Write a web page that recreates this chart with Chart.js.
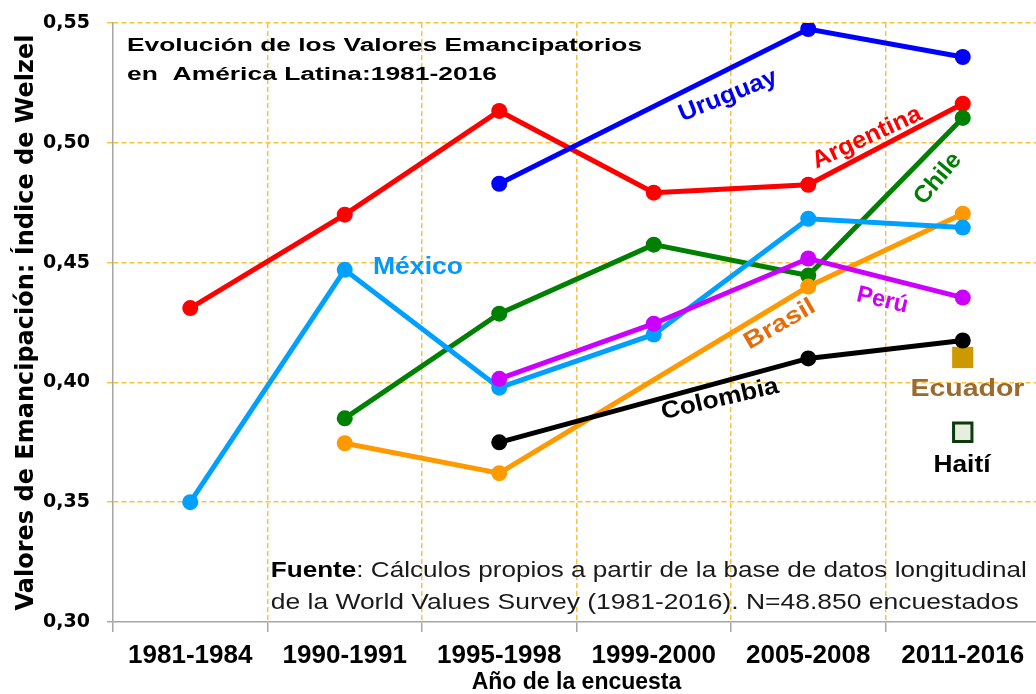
<!DOCTYPE html>
<html>
<head>
<meta charset="utf-8">
<script src="https://cdn.jsdelivr.net/npm/chart.js@4.4.1/dist/chart.umd.min.js"></script>
<style>
  html, body { margin: 0; padding: 0; background: #fff; overflow: hidden; }
  #wrap { width: 1036px; height: 694px; overflow: hidden; }
  canvas { display: block; }
</style>
</head>
<body>
<div id="wrap"><canvas id="chart" width="1040" height="694"></canvas></div>
<script>
// survey waves
const waves = [`1981-1984`, `1990-1991`, `1995-1998`, `1999-2000`, `2005-2008`, `2011-2016`];

// Welzel emancipative values index
const colombia  = [null, null, 0.375, null, 0.410, 0.4175];
const peru      = [null, null, 0.4015, 0.4245, 0.4517, 0.4354];
const mexico    = [0.350, 0.4470, 0.3978, 0.4200, 0.4683, 0.4646];
const brasil    = [null, 0.3746, 0.3621, null, 0.4400, 0.4704];
const chile     = [null, 0.3850, 0.4287, 0.4575, 0.4446, 0.5104];
const uruguay   = [null, null, 0.4829, null, 0.5475, 0.5358];
const argentina = [0.4310, 0.4700, 0.5133, 0.4792, 0.4825, 0.5163];
const ecuador   = [null, null, null, null, null, 0.4104];
const haiti     = [null, null, null, null, null, 0.3792];

const yTicks = [0.30, 0.35, 0.40, 0.45, 0.50, 0.55];

const GRID = `#fcc33a`;
const AXIS = `#a6a6a6`;
const LABEL_FONT = `bold 24px "Liberation Sans"`;

const line = (label, data, color) => ({
  label,
  data,
  borderColor: color,
  backgroundColor: color,
  borderWidth: 5,
  pointRadius: 8,
  pointBorderWidth: 0,
  spanGaps: true,
  tension: 0
});

// text placed in data units: x = wave index, y = index value
const notes = [
  {text: `Uruguay`, x: 3.48, y: 0.5196, color: `#0000ee`, rot: -22, w: 104},
  {text: `Argentina`, x: 4.38, y: 0.5021, color: `#ff0000`, rot: -25, w: 118},
  {text: `Chile`, x: 4.84, y: 0.4850, color: `#008000`, rot: -50, w: 60},
  {text: `México`, x: 1.474, y: 0.4479, color: `#0099ff`, rot: 0, w: 90},
  {text: `Brasil`, x: 3.816, y: 0.4242, color: `#e46c0a`, rot: -30, w: 78},
  {text: `Perú`, x: 4.48, y: 0.4342, color: `#cc00ff`, rot: 13, w: 52},
  {text: `Colombia`, x: 3.428, y: 0.3929, color: `#000000`, rot: -13, w: 120},
  {text: `Ecuador`, x: 5.03, y: 0.3970, color: `#9c6a2e`, rot: 0, w: 114},
  {text: `Haití`, x: 4.995, y: 0.3654, color: `#000000`, rot: 0, w: 57}
];

function drawStretched(ctx, text, x, y, font, color, rot, width, align) {
  ctx.save();
  ctx.font = font;
  ctx.fillStyle = color;
  ctx.textBaseline = `middle`;
  ctx.textAlign = align || `center`;
  ctx.translate(x, y);
  ctx.rotate(rot * Math.PI / 180);
  const m = ctx.measureText(text).width;
  ctx.scale(width / m, 1);
  ctx.fillText(text, 0, 0);
  ctx.restore();
}

const textPlugin = {
  id: `texts`,
  afterDatasetsDraw(chart) {
    const {ctx, scales: {x, y}} = chart;
    notes.forEach((n) => {
      drawStretched(ctx, n.text, x.getPixelForValue(n.x), y.getPixelForValue(n.y), LABEL_FONT, n.color, n.rot, n.w);
    });

    // title box
    const tx = x.getPixelForValue(-0.409);
    const tf = `bold 18px "Liberation Sans"`;
    drawStretched(ctx, `Evolución de los Valores Emancipatorios`, tx, y.getPixelForValue(0.5404), tf, `#000`, 0, 515, `left`);
    drawStretched(ctx, `en  América Latina:1981-2016`, tx, y.getPixelForValue(0.5281), tf, `#000`, 0, 370, `left`);

    // source note
    const sx = x.getPixelForValue(0.521);
    const s1 = y.getPixelForValue(0.3212);
    const s2 = y.getPixelForValue(0.3079);
    const bold = `bold 22px "Liberation Sans"`;
    const reg = `22px "Liberation Sans"`;
    ctx.save();
    ctx.font = bold;
    const wb = ctx.measureText(`Fuente`).width;
    ctx.font = reg;
    const rest = `: Cálculos propios a partir de la base de datos longitudinal`;
    const wr = ctx.measureText(rest).width;
    const k = 756 / (wb + wr);
    ctx.translate(sx, s1);
    ctx.scale(k, 1);
    ctx.textBaseline = `middle`;
    ctx.textAlign = `left`;
    ctx.fillStyle = `#000`;
    ctx.font = bold;
    ctx.fillText(`Fuente`, 0, 0);
    ctx.font = reg;
    ctx.fillStyle = `#1a1a1a`;
    ctx.fillText(rest, wb, 0);
    ctx.restore();
    drawStretched(ctx, `de la World Values Survey (1981-2016). N=48.850 encuestados`, sx, s2, reg, `#1a1a1a`, 0, 748, `left`);
  }
};

const isBase = (ctx) => ctx.tick && Math.abs(ctx.tick.value - 0.30) < 1e-6;

new Chart(document.getElementById(`chart`), {
  type: `line`,
  data: {
    labels: waves,
    datasets: [
      line(`Colombia`, colombia, `#000000`),
      line(`Perú`, peru, `#cc00ff`),
      line(`México`, mexico, `#00a0ff`),
      line(`Brasil`, brasil, `#ff9900`),
      line(`Chile`, chile, `#008000`),
      line(`Uruguay`, uruguay, `#0000ff`),
      line(`Argentina`, argentina, `#ff0000`),
      {
        label: `Ecuador`, data: ecuador, showLine: false,
        pointStyle: `rect`, pointRadius: 15, pointBorderWidth: 0,
        backgroundColor: `#cc9900`, borderColor: `#cc9900`
      },
      {
        label: `Haití`, data: haiti, showLine: false,
        pointStyle: `rect`, pointRadius: 13, pointBorderWidth: 3,
        backgroundColor: `#e6eedf`, borderColor: `#0d3a0d`
      }
    ]
  },
  options: {
    responsive: false,
    devicePixelRatio: 1,
    animation: false,
    layout: {autoPadding: false, padding: {top: 23, left: 0, right: 0, bottom: 0}},
    plugins: {legend: {display: false}, tooltip: {enabled: false}},
    scales: {
      x: {
        offset: true,
        grid: {
          offset: true,
          color: (c) => (c.index === 0 ? `rgba(0,0,0,0)` : GRID),
          lineWidth: 1.5,
          tickLength: 10,
          tickColor: AXIS,
          tickBorderDash: [],
          tickWidth: 1.5
        },
        border: {color: AXIS, width: 1.5, dash: [5, 3]},
        ticks: {color: `#000`, font: {family: `Liberation Sans`, weight: `bold`, size: 26}, padding: 8, maxRotation: 0},
        title: {
          display: true, text: `Año de la encuesta`, color: `#000`,
          font: {family: `Liberation Sans`, weight: `bold`, size: 23, lineHeight: 1},
          padding: {top: 0, bottom: 0}
        },
        afterFit: (s) => {
          s.height = 72;
          s.paddingLeft = 0;
          s.paddingRight = 0;
        }
      },
      y: {
        min: 0.30,
        max: 0.55,
        afterBuildTicks: (s) => { s.ticks = yTicks.map((v) => ({value: v})); },
        grid: {
          color: (c) => (isBase(c) ? `rgba(0,0,0,0)` : GRID),
          lineWidth: 1.5,
          tickLength: 6,
          tickColor: (c) => (isBase(c) ? AXIS : GRID),
          tickBorderDash: [],
          tickWidth: 1.5
        },
        border: {color: AXIS, width: 1.5, dash: [5, 3]},
        ticks: {
          color: `#000`,
          font: {family: `DejaVu Sans`, weight: `bold`, size: 19},
          padding: 17,
          callback: (v) => Number(v).toFixed(2).replace(`.`, `,`)
        },
        title: {
          display: true, text: `Valores de Emancipación: Índice de Welzel`, color: `#000`,
          font: {family: `DejaVu Sans`, weight: `bold`, size: 24, lineHeight: 1},
          padding: {top: 15, bottom: 0}
        },
        afterFit: (s) => {
          s.width = 113;
          s.paddingTop = 0;
          s.paddingBottom = 0;
        }
      }
    }
  },
  plugins: [textPlugin]
});
</script>
</body>
</html>
